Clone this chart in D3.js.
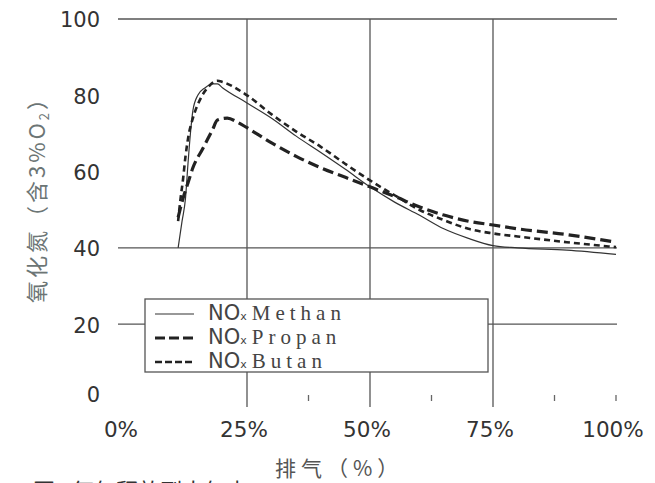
<!DOCTYPE html>
<html>
<meta charset="utf-8">
<style>
  body { margin: 0; background: #fff; }
</style>
<body>
<div id="chart"></div>
<script src="https://d3js.org/d3.v7.min.js"></script>
<script>
  "use strict";

  // exhaust share (%) and NOx values
  var methanX = [11, 11.8, 12.5, 13, 13.5, 14, 15, 16.5, 18, 19, 20, 25, 30, 35, 40, 45, 50, 55, 60, 65, 70, 75, 80, 90, 100];
  var methanY = [40, 47, 53, 62, 70, 76, 80, 82, 83, 83, 82, 78, 74, 69.3, 65, 60.6, 56, 52, 48.6, 45, 42.5, 40.6, 40, 39.4, 38.3];

  var propanX = [11, 12, 13, 14, 16, 18, 19, 21, 23, 25, 30, 35, 40, 45, 50, 55, 60, 65, 70, 75, 80, 90, 100];
  var propanY = [48, 53, 57, 61, 66, 71, 73.5, 74, 73, 71.5, 67.5, 64, 61, 58.5, 56, 53.5, 50.8, 48.6, 47, 46, 45, 43.5, 41.5];

  var butanX = [11, 11.5, 12, 12.5, 13.2, 14, 15.5, 17, 19, 20, 25, 30, 35, 40, 45, 50, 55, 60, 65, 70, 75, 80, 90, 100];
  var butanY = [47, 53, 58, 64, 70, 74, 79, 82, 83.8, 83.5, 80, 75, 70.5, 66.5, 62, 57.7, 53.8, 50, 47.3, 45, 43.8, 43, 41.5, 40.2];

  var yTicks = [0, 20, 40, 60, 80, 100];
  var xTicks = [0, 25, 50, 75, 100];
  var xTickLabels = ["0%", "25%", "50%", "75%", "100%"];
  var hGrid = [100, 40, 20];
  var vGrid = [25, 50, 75];
  var minorTicks = [37.5, 62.5, 87.5, 100];

  var seriesNames = ["Methan", "Propan", "Butan"];

  var width = 655, height = 483;
  var svg = d3.select("#chart").append("svg")
      .attr("width", width)
      .attr("height", height)
      .style("font-family", "'DejaVu Sans', sans-serif");

  var x = d3.scaleLinear().domain([0, 100]).range([124, 616]);
  var y = d3.scaleLinear().domain([0, 100]).range([400.5, 19]);

  // grid lines
  svg.selectAll(".hgrid")
      .data(hGrid)
      .enter()
      .append("line")
        .attr("x1", 118)
        .attr("x2", 617)
        .attr("y1", function (d) { return y(d); })
        .attr("y2", function (d) { return y(d); })
        .style("stroke", "#555")
        .style("stroke-width", 1.3);

  svg.selectAll(".vgrid")
      .data(vGrid)
      .enter()
      .append("line")
        .attr("x1", function (d) { return x(d); })
        .attr("x2", function (d) { return x(d); })
        .attr("y1", y(100))
        .attr("y2", 407)
        .style("stroke", "#555")
        .style("stroke-width", 1.3);

  svg.selectAll(".minor")
      .data(minorTicks)
      .enter()
      .append("line")
        .attr("x1", function (d) { return x(d); })
        .attr("x2", function (d) { return x(d); })
        .attr("y1", 395)
        .attr("y2", 401)
        .style("stroke", "#666")
        .style("stroke-width", 1.3);

  // tick labels
  svg.selectAll(".ylab")
      .data(yTicks)
      .enter()
      .append("text")
        .attr("x", 100)
        .attr("y", function (d) { return y(d) + (d === 0 ? -6 : 1); })
        .attr("dy", "0.35em")
        .style("text-anchor", "end")
        .style("font-size", "21px")
        .style("fill", "#333")
        .text(function (d) { return d; });

  svg.selectAll(".xlab")
      .data(xTicks)
      .enter()
      .append("text")
        .attr("x", function (d) { return x(d) - 3; })
        .attr("y", 429)
        .attr("dy", "0.35em")
        .style("text-anchor", "middle")
        .style("font-size", "21.5px")
        .style("fill", "#333")
        .text(function (d, i) { return xTickLabels[i]; });

  // curves
  function toPoints(xs, ys) {
    return xs.map(function (d, i) { return [d, ys[i]]; });
  }
  var line = d3.line()
      .x(function (d) { return x(d[0]); })
      .y(function (d) { return y(d[1]); })
      .curve(d3.curveMonotoneX);

  var styles = {
    Methan: { w: 1.2, dash: null, color: "#333" },
    Propan: { w: 3.2, dash: "11,5", color: "#222" },
    Butan: { w: 2.6, dash: "6,4", color: "#222" }
  };
  var seriesData = {
    Methan: toPoints(methanX, methanY),
    Propan: toPoints(propanX, propanY),
    Butan: toPoints(butanX, butanY)
  };

  seriesNames.forEach(function (n) {
    svg.append("path")
        .datum(seriesData[n])
        .attr("d", line)
        .style("fill", "none")
        .style("stroke", styles[n].color)
        .style("stroke-width", styles[n].w)
        .style("stroke-dasharray", styles[n].dash);
  });

  // legend
  svg.append("rect")
      .attr("x", 145)
      .attr("y", 299)
      .attr("width", 343)
      .attr("height", 73)
      .style("fill", "#fff")
      .style("stroke", "#555")
      .style("stroke-width", 1.3);

  var legendY = [314, 338, 362];
  var leg = svg.selectAll(".leg")
      .data(seriesNames)
      .enter()
      .append("g")
        .attr("transform", function (d, i) { return "translate(0," + legendY[i] + ")"; });

  leg.append("line")
      .attr("x1", 155)
      .attr("x2", 194)
      .attr("y1", 0)
      .attr("y2", 0)
      .style("stroke", function (d) { return styles[d].color; })
      .style("stroke-width", function (d) { return d === "Methan" ? 1.2 : styles[d].w; })
      .style("stroke-dasharray", function (d) { return d === "Propan" ? "10,4" : (d === "Butan" ? "7,3" : null); });

  var lt = leg.append("text")
      .attr("x", 208)
      .attr("y", 0)
      .attr("dy", "0.36em")
      .style("fill", "#444");
  lt.append("tspan")
      .style("font-size", "21px")
      .text("NO");
  lt.append("tspan")
      .style("font-size", "11px")
      .text("x");
  lt.append("tspan")
      .attr("dx", 5)
      .style("font-family", "'Liberation Serif', serif")
      .style("font-size", "21px")
      .style("letter-spacing", "5px")
      .text(function (d) { return d; });

  // axis titles
  var yt = svg.append("text")
      .attr("transform", "translate(45,194) rotate(-90)")
      .style("text-anchor", "middle")
      .style("font-family", "'Noto Sans CJK SC', sans-serif")
      .style("font-size", "22px")
      .style("letter-spacing", "3px")
      .style("fill", "#6c7575");
  yt.append("tspan").text("氧化氮（含3%O");
  yt.append("tspan").attr("dy", 4).style("font-size", "13px").text("2");
  yt.append("tspan").attr("dy", -4).text("）");

  svg.append("text")
      .attr("x", 275)
      .attr("y", 476)
      .style("font-family", "'Noto Sans CJK SC', sans-serif")
      .style("font-size", "21px")
      .style("letter-spacing", "5px")
      .style("fill", "#555")
      .text("排气（%）");

  svg.append("text")
      .attr("x", 33)
      .attr("y", 499)
      .style("font-family", "'Noto Sans CJK SC', sans-serif")
      .style("font-size", "22px")
      .style("fill", "#333")
      .text("图1  氧气释放到大气中");
</script>
</body>
</html>
